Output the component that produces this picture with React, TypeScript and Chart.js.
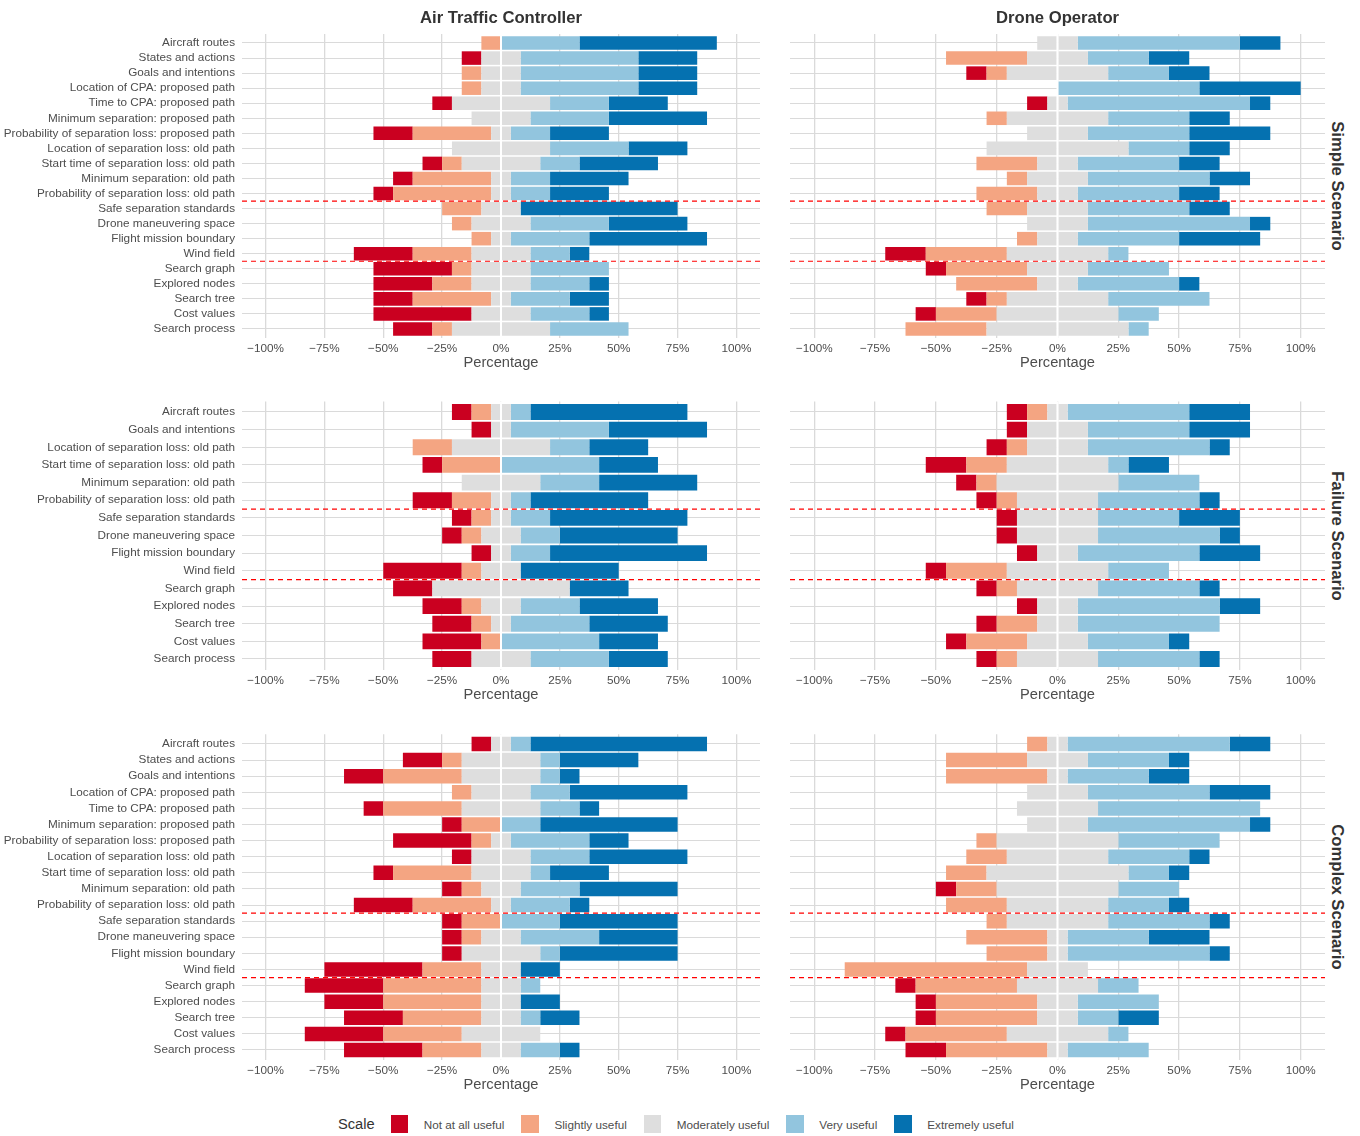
import React, { useEffect, useRef } from "react";
import { Chart, registerables } from "chart.js";

Chart.register(...registerables);

// ---------------- data ----------------
const RESPONDENTS = 12;

const levelNames = ["Not at all useful", "Slightly useful", "Moderately useful", "Very useful", "Extremely useful"];
const levelColors = ["#CA0020", "#F4A582", "#DEDEDE", "#92C5DE", "#0571B0"];
const roleTitles = ["Air Traffic Controller", "Drone Operator"];
const scenarioTitles = ["Simple Scenario", "Failure Scenario", "Complex Scenario"];
const xTickValues = [-100, -75, -50, -25, 0, 25, 50, 75, 100];
const xTickLabels = ["\u2212100%", "\u221275%", "\u221250%", "\u221225%", "0%", "25%", "50%", "75%", "100%"];

const simpleCategories = [
  "Aircraft routes",
  "States and actions",
  "Goals and intentions",
  "Location of CPA: proposed path",
  "Time to CPA: proposed path",
  "Minimum separation: proposed path",
  "Probability of separation loss: proposed path",
  "Location of separation loss: old path",
  "Start time of separation loss: old path",
  "Minimum separation: old path",
  "Probability of separation loss: old path",
  "Safe separation standards",
  "Drone maneuvering space",
  "Flight mission boundary",
  "Wind field",
  "Search graph",
  "Explored nodes",
  "Search tree",
  "Cost values",
  "Search process",
];
const failureCategories = [
  "Aircraft routes",
  "Goals and intentions",
  "Location of separation loss: old path",
  "Start time of separation loss: old path",
  "Minimum separation: old path",
  "Probability of separation loss: old path",
  "Safe separation standards",
  "Drone maneuvering space",
  "Flight mission boundary",
  "Wind field",
  "Search graph",
  "Explored nodes",
  "Search tree",
  "Cost values",
  "Search process",
];
const complexCategories = [
  "Aircraft routes",
  "States and actions",
  "Goals and intentions",
  "Location of CPA: proposed path",
  "Time to CPA: proposed path",
  "Minimum separation: proposed path",
  "Probability of separation loss: proposed path",
  "Location of separation loss: old path",
  "Start time of separation loss: old path",
  "Minimum separation: old path",
  "Probability of separation loss: old path",
  "Safe separation standards",
  "Drone maneuvering space",
  "Flight mission boundary",
  "Wind field",
  "Search graph",
  "Explored nodes",
  "Search tree",
  "Cost values",
  "Search process",
];

// dashed separators are drawn after these category indices
const simpleBreaks = [10, 14];
const failureBreaks = [5, 9];
const complexBreaks = [10, 14];

// counts of respondents (out of 12) per level
const atcSimpleNot = [0, 1, 0, 0, 1, 0, 2, 0, 1, 1, 1, 0, 0, 0, 3, 4, 3, 2, 5, 2];
const atcSimpleSlight = [1, 0, 1, 1, 0, 0, 4, 0, 1, 4, 5, 2, 1, 1, 3, 1, 2, 4, 0, 1];
const atcSimpleMod = [0, 2, 2, 2, 5, 3, 1, 5, 4, 1, 1, 2, 3, 1, 3, 3, 3, 1, 3, 5];
const atcSimpleVery = [4, 6, 6, 6, 3, 4, 2, 4, 2, 2, 2, 0, 4, 4, 2, 4, 3, 3, 3, 4];
const atcSimpleExt = [7, 3, 3, 3, 3, 5, 3, 3, 4, 4, 3, 8, 4, 6, 1, 0, 1, 2, 1, 0];

const droneSimpleNot = [0, 0, 1, 0, 1, 0, 0, 0, 0, 0, 0, 0, 0, 0, 2, 1, 0, 1, 1, 0];
const droneSimpleSlight = [0, 4, 1, 0, 0, 1, 0, 0, 3, 1, 3, 2, 0, 1, 4, 4, 4, 1, 3, 4];
const droneSimpleMod = [2, 3, 5, 0, 1, 5, 3, 7, 2, 3, 2, 3, 3, 2, 5, 3, 2, 5, 6, 7];
const droneSimpleVery = [8, 3, 3, 7, 9, 4, 5, 3, 5, 6, 5, 5, 8, 5, 1, 4, 5, 5, 2, 1];
const droneSimpleExt = [2, 2, 2, 5, 1, 2, 4, 2, 2, 2, 2, 2, 1, 4, 0, 0, 1, 0, 0, 0];

const atcFailNot = [1, 1, 0, 1, 0, 2, 1, 1, 1, 4, 2, 2, 2, 3, 2];
const atcFailSlight = [1, 0, 2, 3, 0, 2, 1, 1, 0, 1, 0, 1, 1, 1, 0];
const atcFailMod = [1, 1, 5, 0, 4, 1, 1, 2, 1, 2, 7, 2, 1, 0, 3];
const atcFailVery = [1, 5, 2, 5, 3, 1, 2, 2, 2, 0, 0, 3, 4, 5, 4];
const atcFailExt = [8, 5, 3, 3, 5, 6, 7, 6, 8, 5, 3, 4, 4, 3, 3];

const droneFailNot = [1, 1, 1, 2, 1, 1, 1, 1, 1, 1, 1, 1, 1, 1, 1];
const droneFailSlight = [1, 0, 1, 2, 1, 1, 0, 0, 0, 3, 1, 0, 2, 3, 1];
const droneFailMod = [1, 3, 3, 5, 6, 4, 4, 4, 2, 5, 4, 2, 2, 3, 4];
const droneFailVery = [6, 5, 6, 1, 4, 5, 4, 6, 6, 3, 5, 7, 7, 4, 5];
const droneFailExt = [3, 3, 1, 2, 0, 1, 3, 1, 3, 0, 1, 2, 0, 1, 1];

const atcCompNot = [1, 2, 2, 0, 1, 1, 4, 1, 1, 1, 3, 1, 1, 1, 5, 4, 3, 3, 4, 4];
const atcCompSlight = [0, 1, 4, 1, 4, 2, 1, 0, 4, 1, 4, 2, 1, 0, 3, 5, 5, 4, 4, 3];
const atcCompMod = [1, 4, 4, 3, 4, 0, 1, 3, 3, 2, 1, 0, 2, 4, 2, 2, 2, 2, 4, 2];
const atcCompVery = [1, 1, 1, 2, 2, 2, 4, 3, 1, 3, 3, 3, 4, 1, 0, 1, 0, 1, 0, 2];
const atcCompExt = [9, 4, 1, 6, 1, 7, 2, 5, 3, 5, 1, 6, 4, 6, 2, 0, 2, 2, 0, 1];

const droneCompNot = [0, 0, 0, 0, 0, 0, 0, 0, 0, 1, 0, 0, 0, 0, 0, 1, 1, 1, 1, 2];
const droneCompSlight = [1, 4, 5, 0, 0, 0, 1, 2, 2, 2, 3, 1, 4, 3, 9, 5, 5, 5, 5, 5];
const droneCompMod = [1, 3, 1, 3, 4, 3, 6, 5, 7, 6, 5, 5, 1, 1, 3, 4, 2, 2, 5, 1];
const droneCompVery = [8, 4, 4, 6, 8, 8, 5, 4, 2, 3, 3, 5, 4, 7, 0, 2, 4, 2, 1, 4];
const droneCompExt = [2, 1, 2, 3, 0, 1, 0, 1, 1, 0, 1, 1, 3, 1, 0, 0, 0, 2, 0, 0];

// ---------------- layout / style ----------------
const FONT = '"Liberation Sans", Arial, Helvetica, sans-serif';
const GRID = "#DADADA";
const AXIS_TEXT = "#4D4D4D";

const COLS = [
  { left: 0, width: 770, padLeft: 0, padRight: 10, yAxisWidth: 242, showLabels: true, center: 501 },
  { left: 780, width: 545, padLeft: 10, padRight: 0, yAxisWidth: 0, showLabels: false, center: 1057.5 },
];
const ROWS = [
  { top: 34, bottom: 338 },
  { top: 401.4, bottom: 669.6 },
  { top: 734.3, bottom: 1059.7 },
];
const TOP_PAD = 20;
const X_AXIS_SPACE = 40;

type PanelDef = {
  row: number;
  col: number;
  categories: string[];
  breaks: number[];
  series: number[][];
};

const PANELS: PanelDef[] = [
  { row: 0, col: 0, categories: simpleCategories, breaks: simpleBreaks, series: [atcSimpleNot, atcSimpleSlight, atcSimpleMod, atcSimpleVery, atcSimpleExt] },
  { row: 0, col: 1, categories: simpleCategories, breaks: simpleBreaks, series: [droneSimpleNot, droneSimpleSlight, droneSimpleMod, droneSimpleVery, droneSimpleExt] },
  { row: 1, col: 0, categories: failureCategories, breaks: failureBreaks, series: [atcFailNot, atcFailSlight, atcFailMod, atcFailVery, atcFailExt] },
  { row: 1, col: 1, categories: failureCategories, breaks: failureBreaks, series: [droneFailNot, droneFailSlight, droneFailMod, droneFailVery, droneFailExt] },
  { row: 2, col: 0, categories: complexCategories, breaks: complexBreaks, series: [atcCompNot, atcCompSlight, atcCompMod, atcCompVery, atcCompExt] },
  { row: 2, col: 1, categories: complexCategories, breaks: complexBreaks, series: [droneCompNot, droneCompSlight, droneCompMod, droneCompVery, droneCompExt] },
];

function Panel({ def }: { def: PanelDef }) {
  const ref = useRef<HTMLCanvasElement | null>(null);
  const col = COLS[def.col];
  const row = ROWS[def.row];
  const canvasTop = Math.floor(row.top) - TOP_PAD;
  const padTop = row.top - canvasTop;
  const canvasHeight = Math.ceil(row.bottom + X_AXIS_SPACE) - canvasTop;
  const xAxisHeight = canvasTop + canvasHeight - row.bottom;

  useEffect(() => {
    const canvas = ref.current;
    if (!canvas) return;
    const [notAtAll, slightly, moderately, very, extremely] = def.series;
    const pct = (c: number) => (c / RESPONDENTS) * 100;
    const pts = (arr: number[], sign: number, half: boolean) =>
      arr.map((c, i) => ({ x: sign * (half ? pct(c) / 2 : pct(c)), y: i }));

    const base = { borderWidth: 0, barPercentage: 0.9, categoryPercentage: 1 };
    const datasets = [
      { ...base, label: levelNames[2], data: pts(moderately, -1, true), backgroundColor: levelColors[2] },
      { ...base, label: levelNames[1], data: pts(slightly, -1, false), backgroundColor: levelColors[1] },
      { ...base, label: levelNames[0], data: pts(notAtAll, -1, false), backgroundColor: levelColors[0] },
      { ...base, label: levelNames[2], data: pts(moderately, 1, true), backgroundColor: levelColors[2] },
      { ...base, label: levelNames[3], data: pts(very, 1, false), backgroundColor: levelColors[3] },
      { ...base, label: levelNames[4], data: pts(extremely, 1, false), backgroundColor: levelColors[4] },
    ];

    const n = def.categories.length;
    const overlay = {
      id: "overlay",
      afterDatasetsDraw(chart: any) {
        const { ctx, chartArea: a, scales } = chart;
        const xs = scales.x;
        const ys = scales.y;
        ctx.save();
        const x0 = xs.getPixelForValue(0);
        ctx.strokeStyle = "#FFFFFF";
        ctx.lineWidth = 2;
        ctx.beginPath();
        ctx.moveTo(x0, a.top);
        ctx.lineTo(x0, a.bottom);
        ctx.stroke();
        ctx.strokeStyle = "#FF0000";
        ctx.lineWidth = 1.2;
        ctx.setLineDash([5, 4]);
        for (const b of def.breaks) {
          const yy = ys.getPixelForValue(b + 0.5);
          ctx.beginPath();
          ctx.moveTo(a.left, yy);
          ctx.lineTo(a.right, yy);
          ctx.stroke();
        }
        ctx.restore();
      },
    };

    const chart = new Chart(canvas, {
      type: "bar",
      data: { datasets: datasets as any },
      plugins: [overlay],
      options: {
        indexAxis: "y",
        animation: false,
        responsive: false,
        maintainAspectRatio: false,
        layout: { padding: { top: padTop, left: col.padLeft, right: col.padRight, bottom: 0 } },
        plugins: { legend: { display: false }, tooltip: { enabled: false }, title: { display: false } },
        scales: {
          x: {
            type: "linear",
            min: -110,
            max: 110,
            stacked: true,
            afterBuildTicks: (s: any) => {
              s.ticks = xTickValues.map((v) => ({ value: v }));
            },
            afterFit: (s: any) => {
              s.height = xAxisHeight;
              s.paddingLeft = 0;
              s.paddingRight = 0;
            },
            grid: { color: GRID, lineWidth: 1.3, drawTicks: false },
            border: { display: false },
            ticks: {
              autoSkip: false,
              maxRotation: 0,
              padding: 4,
              color: AXIS_TEXT,
              font: { family: FONT, size: 11.73 },
              callback: (_v: any, i: number) => xTickLabels[i],
            },
            title: {
              display: true,
              text: "Percentage",
              color: AXIS_TEXT,
              font: { family: FONT, size: 14.67 },
              padding: { top: 0, bottom: 6.2 },
            },
          },
          y: {
            type: "linear",
            reverse: true,
            offset: false,
            min: -0.6,
            max: n - 0.4,
            stacked: true,
            afterBuildTicks: (s: any) => {
              s.ticks = def.categories.map((_c, i) => ({ value: i }));
            },
            afterFit: (s: any) => {
              s.width = col.yAxisWidth;
              s.paddingTop = 0;
              s.paddingBottom = 0;
            },
            grid: { color: GRID, lineWidth: 1.1, drawTicks: false, offset: false },
            border: { display: false },
            ticks: {
              display: col.showLabels,
              autoSkip: false,
              padding: 7,
              color: AXIS_TEXT,
              font: { family: FONT, size: 11.73 },
              callback: (_v: any, i: number) => def.categories[i],
            },
          },
        },
      } as any,
    });
    return () => chart.destroy();
  }, []);

  return (
    <canvas
      ref={ref}
      width={col.width}
      height={canvasHeight}
      style={{ position: "absolute", left: col.left, top: canvasTop, width: col.width, height: canvasHeight }}
    />
  );
}

export default function App() {
  return (
    <div
      style={{
        position: "absolute",
        left: 0,
        top: 0,
        width: 1360,
        height: 1136,
        background: "#FFFFFF",
        overflow: "hidden",
        fontFamily: FONT,
      }}
    >
      {PANELS.map((p, i) => (
        <Panel key={i} def={p} />
      ))}
      {roleTitles.map((t, i) => (
        <div
          key={t}
          style={{
            position: "absolute",
            left: COLS[i].center - 200,
            width: 400,
            top: 8,
            height: 20,
            lineHeight: "20px",
            textAlign: "center",
            fontWeight: "bold",
            fontSize: 16.67,
            color: "#333333",
            whiteSpace: "nowrap",
          }}
        >
          {t}
        </div>
      ))}
      {scenarioTitles.map((t, i) => {
        const cy = (ROWS[i].top + ROWS[i].bottom) / 2;
        return (
          <div
            key={t}
            style={{
              position: "absolute",
              left: 1337 - 150,
              top: cy - 10,
              width: 300,
              height: 20,
              lineHeight: "20px",
              textAlign: "center",
              fontWeight: "bold",
              fontSize: 16.67,
              color: "#333333",
              whiteSpace: "nowrap",
              transform: "rotate(90deg)",
              transformOrigin: "50% 50%",
            }}
          >
            {t}
          </div>
        );
      })}
      <div
        style={{
          position: "absolute",
          left: 338,
          top: 1114,
          height: 20,
          display: "flex",
          alignItems: "center",
          whiteSpace: "nowrap",
        }}
      >
        <span style={{ fontSize: 14.67, color: "#333333", marginRight: 16 }}>Scale</span>
        {levelNames.map((name, i) => (
          <React.Fragment key={name}>
            <span
              style={{
                display: "inline-block",
                width: 17.5,
                height: 17.5,
                background: levelColors[i],
                marginRight: 15.5,
              }}
            />
            <span style={{ fontSize: 11.73, color: "#4D4D4D", marginRight: i < levelNames.length - 1 ? 17 : 0 }}>
              {name}
            </span>
          </React.Fragment>
        ))}
      </div>
    </div>
  );
}
